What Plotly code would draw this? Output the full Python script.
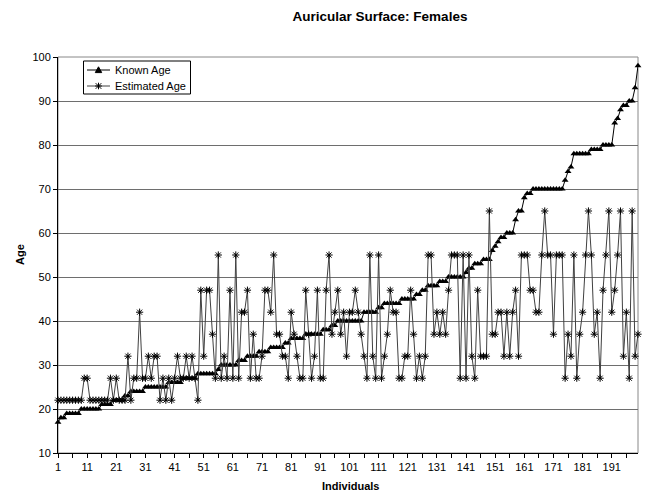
import plotly.graph_objects as go

individuals = list(range(1, 201))

known_age = [
    17, 18, 18, 19, 19, 19, 19, 19, 20, 20,
    20, 20, 20, 20, 20, 21, 21, 21, 21, 22,
    22, 22, 22, 23, 23, 24, 24, 24, 24, 24,
    25, 25, 25, 25, 25, 25, 25, 25, 26, 26,
    26, 26, 26, 27, 27, 27, 27, 27, 28, 28,
    28, 28, 28, 28, 28, 29, 30, 30, 30, 30,
    30, 30, 31, 31, 31, 32, 32, 32, 32, 33,
    33, 33, 33, 34, 34, 34, 34, 34, 35, 35,
    36, 36, 36, 36, 36, 37, 37, 37, 37, 37,
    37, 38, 38, 38, 39, 39, 40, 40, 40, 40,
    40, 40, 40, 40, 40, 42, 42, 42, 42, 42,
    43, 43, 44, 44, 44, 44, 44, 44, 45, 45,
    45, 45, 45, 46, 46, 47, 47, 48, 48, 48,
    48, 49, 49, 49, 50, 50, 50, 50, 50, 50,
    51, 52, 52, 53, 53, 53, 54, 54, 54, 56,
    57, 58, 59, 59, 60, 60, 60, 63, 65, 65,
    68, 69, 69, 70, 70, 70, 70, 70, 70, 70,
    70, 70, 70, 70, 72, 74, 75, 78, 78, 78,
    78, 78, 78, 79, 79, 79, 79, 80, 80, 80,
    80, 85, 86, 88, 89, 89, 90, 90, 93, 98,
]

estimated_age = [
    22, 22, 22, 22, 22, 22, 22, 22, 22, 27,
    27, 22, 22, 22, 22, 22, 22, 22, 27, 22,
    27, 22, 22, 22, 32, 22, 27, 27, 42, 27,
    27, 32, 27, 32, 32, 22, 27, 22, 27, 22,
    27, 32, 27, 27, 32, 27, 32, 27, 22, 47,
    32, 47, 47, 37, 27, 55, 27, 32, 27, 47,
    27, 55, 27, 42, 42, 47, 27, 37, 27, 27,
    32, 47, 47, 42, 55, 37, 37, 32, 32, 27,
    42, 37, 32, 27, 27, 47, 37, 27, 32, 47,
    27, 27, 47, 55, 37, 42, 47, 37, 42, 32,
    42, 42, 47, 42, 37, 32, 27, 55, 32, 27,
    55, 27, 32, 37, 47, 42, 42, 27, 27, 32,
    32, 47, 37, 27, 32, 27, 32, 55, 55, 37,
    42, 37, 42, 37, 47, 55, 55, 55, 27, 55,
    27, 55, 32, 27, 47, 32, 32, 32, 65, 37,
    37, 42, 42, 32, 42, 32, 42, 47, 32, 55,
    55, 55, 47, 47, 42, 42, 55, 65, 55, 55,
    37, 55, 55, 55, 27, 37, 32, 55, 27, 37,
    42, 55, 65, 55, 37, 42, 27, 47, 55, 65,
    42, 47, 55, 65, 32, 42, 27, 65, 32, 37,
]

series_names = ["Known Age", "Estimated Age"]

FONT = "Liberation Sans, Arial, sans-serif"
W, H = 647, 491
L, R, T, B = 58, 9, 57, 38
PW, PH = W - L - R, H - T - B


def px(x):
    return (x - L) / PW


def py(y):
    return (H - B - y) / PH


fig = go.Figure()
fig.add_trace(go.Scatter(
    x=individuals, y=known_age, name=series_names[0], mode="lines+markers",
    line=dict(color="black", width=1), cliponaxis=False, showlegend=False,
    marker=dict(symbol="triangle-up", size=6, color="black"),
))
fig.add_trace(go.Scatter(
    x=individuals, y=estimated_age, name=series_names[1], mode="lines+markers",
    line=dict(color="#404040", width=1), cliponaxis=False, showlegend=False,
    marker=dict(symbol="asterisk-open", size=6, color="black",
                line=dict(color="black", width=1)),
))

# hand-built legend box (matches the compact Excel legend)
lx0, lx1, ly0, ly1 = 83.5, 190.5, 61, 94
rows = [70, 86]
sx0, sx1, mx, tx = 87, 110, 98.5, 112.5
shapes = [
    dict(type="rect", xref="x domain", yref="y domain", x0=0, x1=1, y0=0, y1=1,
         line=dict(color="#888888", width=1), layer="below"),
    dict(type="rect", xref="paper", yref="paper", x0=px(lx0), x1=px(lx1),
         y0=py(ly1), y1=py(ly0), line=dict(color="black", width=1),
         fillcolor="white", layer="above"),
    dict(type="line", xref="paper", yref="paper", x0=px(sx0), x1=px(sx1),
         y0=py(rows[0]), y1=py(rows[0]), line=dict(color="black", width=1)),
    dict(type="path", xref="paper", yref="paper",
         path=(f"M {px(mx - 3.2)},{py(rows[0] + 2.6)} L {px(mx + 3.2)},{py(rows[0] + 2.6)} "
               f"L {px(mx)},{py(rows[0] - 3.2)} Z"),
         fillcolor="black", line=dict(color="black", width=1)),
    dict(type="line", xref="paper", yref="paper", x0=px(sx0), x1=px(sx1),
         y0=py(rows[1]), y1=py(rows[1]), line=dict(color="#404040", width=1)),
]
for (ax, ay, bx, by) in [(-2.8, -2.8, 2.8, 2.8), (-2.8, 2.8, 2.8, -2.8),
                         (0, -3.3, 0, 3.3), (-3.3, 0, 3.3, 0)]:
    shapes.append(dict(type="line", xref="paper", yref="paper",
                       x0=px(mx + ax), y0=py(rows[1] + ay),
                       x1=px(mx + bx), y1=py(rows[1] + by),
                       line=dict(color="black", width=1)))

annotations = [
    dict(text=series_names[0], xref="paper", yref="paper", x=px(tx), y=py(rows[0]),
         xanchor="left", yanchor="middle", showarrow=False,
         font=dict(family=FONT, size=11, color="black")),
    dict(text=series_names[1], xref="paper", yref="paper", x=px(tx), y=py(rows[1]),
         xanchor="left", yanchor="middle", showarrow=False,
         font=dict(family=FONT, size=11, color="black")),
    dict(text="<b>Individuals</b>", xref="paper", yref="paper",
         x=px(350), y=py(486), xanchor="center", yanchor="middle",
         showarrow=False, font=dict(family=FONT, size=11, color="black")),
    dict(text="<b>Age</b>", xref="paper", yref="paper",
         x=px(20), y=0.5, xanchor="center", yanchor="middle",
         textangle=-90, showarrow=False,
         font=dict(family=FONT, size=11, color="black")),
]

fig.update_layout(
    width=W, height=H,
    margin=dict(l=L, r=R, t=T, b=B),
    paper_bgcolor="white", plot_bgcolor="white",
    font=dict(family=FONT, size=11, color="black"),
    title=dict(text="<b>Auricular Surface: Females</b>",
               font=dict(family=FONT, size=13.5, color="black"),
               xref="container", x=380 / W, xanchor="center",
               yref="container", y=1 - 16 / H, yanchor="middle"),
    showlegend=False,
    xaxis=dict(range=[1, 200], tick0=1, dtick=10, showgrid=False,
               ticks="outside", ticklen=4, tickcolor="black",
               showline=True, linecolor="black", linewidth=1,
               zeroline=False, tickfont=dict(size=11),
               minor=dict(tick0=1, dtick=5, ticks="outside", ticklen=4,
                          tickcolor="black", showgrid=False)),
    yaxis=dict(range=[10, 100], dtick=10, showgrid=True,
               gridcolor="#6e6e6e", gridwidth=1,
               ticks="outside", ticklen=4, tickcolor="black",
               showline=True, linecolor="black", linewidth=1,
               zeroline=False, tickfont=dict(size=11)),
    shapes=shapes,
    annotations=annotations,
)

fig.write_html(
    "out.html",
    config={"displayModeBar": False, "staticPlot": True},
    post_script="document.body.style.margin='0';document.body.style.padding='0';"
                "document.documentElement.style.overflow='hidden';",
)
